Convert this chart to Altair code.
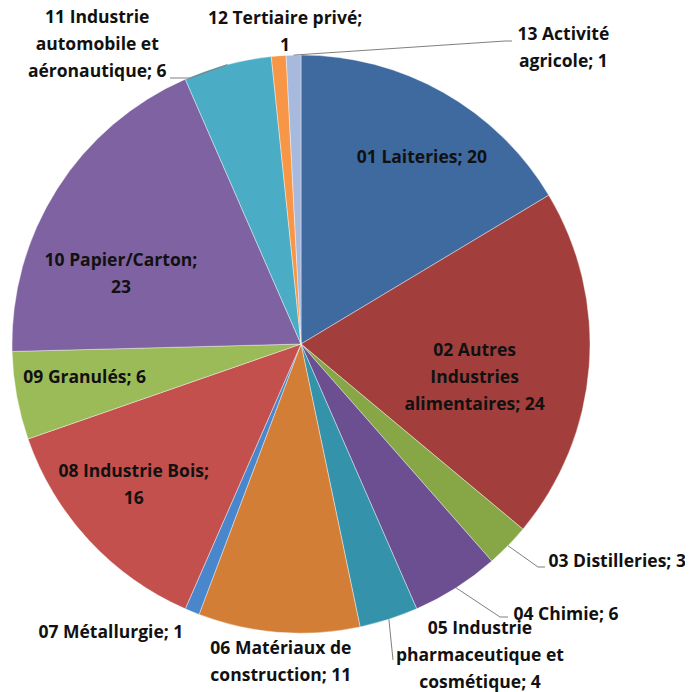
import math
import altair as alt
import pandas as pd

# ---- data ----
categories = [
    "01 Laiteries", "02 Autres Industries alimentaires", "03 Distilleries",
    "04 Chimie", "05 Industrie pharmaceutique et cosmétique",
    "06 Matériaux de construction", "07 Métallurgie", "08 Industrie Bois",
    "09 Granulés", "10 Papier/Carton", "11 Industrie automobile et aéronautique",
    "12 Tertiaire privé", "13 Activité agricole",
]
values = [20, 24, 3, 6, 4, 11, 1, 16, 6, 23, 6, 1, 1]
# label text as wrapped in the reference
label_names = [
    "01 Laiteries", "02 Autres\nIndustries\nalimentaires", "03 Distilleries",
    "04 Chimie", "05 Industrie\npharmaceutique et\ncosmétique",
    "06 Matériaux de\nconstruction", "07 Métallurgie", "08 Industrie Bois",
    "09 Granulés", "10 Papier/Carton", "11 Industrie\nautomobile et\naéronautique",
    "12 Tertiaire privé", "13 Activité\nagricole",
]
value_sep = [" ", " ", " ", " ", " ", " ", " ", "\n", " ", "\n", " ", "\n", " "]

# ---- style / layout ----
colors = ["#3E6A9F", "#A23F3C", "#87A746", "#6B4F91", "#3592AB", "#D37E36",
          "#4A86CB", "#C3504D", "#9BBB59", "#7F62A1", "#4BACC6", "#F79646", "#A7B9DD"]
CX, CY, R = 293, 336, 289
LINE_H = 27
label_angle_offset = [3.5, 6.8, -9.7, -11.9, -12.1, -0.8, 11.2, 2.6, 1.35, -11.4, -19.5, 1.5, 43.1]
label_radius = [222, 177, 384, 379, 360, 319, 346, 219, 219, 193, 362, 312, 395]
leader_tails = {  # elbow / end points of leader lines (view pixels)
    "03 Distilleries": [(530, 559), (537, 559)],
    "04 Chimie": [(492, 609), (500, 609)],
    "05 Industrie pharmaceutique et cosmétique": [(385, 652)],
    "11 Industrie automobile et aéronautique": [(182, 70), (162, 70)],
    "13 Activité agricole": [(497, 33), (504, 33)],
}

total = sum(values)
mids, cum = [], 0
for v in values:
    mids.append((cum + v / 2) / total * 360)
    cum += v

df = pd.DataFrame({"cat": categories, "value": values, "idx": list(range(len(values)))})

lab_rows = []
for i, (n, s, v) in enumerate(zip(label_names, value_sep, values)):
    a = math.radians(mids[i] + label_angle_offset[i])
    t = f"{n};{s}{v}"
    nl = t.count("\n")
    lab_rows.append({
        "text": t,
        "px": CX + label_radius[i] * math.sin(a),
        "py": CY - label_radius[i] * math.cos(a) - nl * LINE_H / 2,
    })
labels = pd.DataFrame(lab_rows)

lead_rows = []
for i, c in enumerate(categories):
    if c in leader_tails:
        a = math.radians(mids[i])
        pts = [(CX + R * math.sin(a), CY - R * math.cos(a))] + leader_tails[c]
        for k, (x, y) in enumerate(pts):
            lead_rows.append({"g": c, "k": k, "px": x, "py": y})
leaders = pd.DataFrame(lead_rows)

pie = alt.Chart(df).mark_arc(radius=R, stroke="#ffffff", strokeWidth=0.4).encode(
    theta=alt.Theta("value:Q", stack=True),
    color=alt.Color("cat:N", scale=alt.Scale(domain=categories, range=colors), legend=None),
    order=alt.Order("idx:Q"),
    x=alt.value(CX),
    y=alt.value(CY),
)

lines = alt.Chart(leaders).mark_line(color="#7F7F7F", strokeWidth=1).encode(
    x=alt.X("px:Q", scale=None, axis=None),
    y=alt.Y("py:Q", scale=None, axis=None),
    detail="g:N",
    order="k:Q",
)

text = alt.Chart(labels).mark_text(
    font="Open Sans", fontWeight="bold", fontSize=17.5, color="#111111",
    align="center", baseline="middle", lineBreak="\n", lineHeight=LINE_H,
).encode(
    x=alt.X("px:Q", scale=None, axis=None),
    y=alt.Y("py:Q", scale=None, axis=None),
    text="text:N",
)

chart = alt.layer(pie, lines, text).properties(
    width=677, height=684, autosize=alt.AutoSizeParams(type="none"), padding=0,
).configure_view(stroke=None)

chart.save("out.html", embed_options={"renderer": "svg", "actions": False})
